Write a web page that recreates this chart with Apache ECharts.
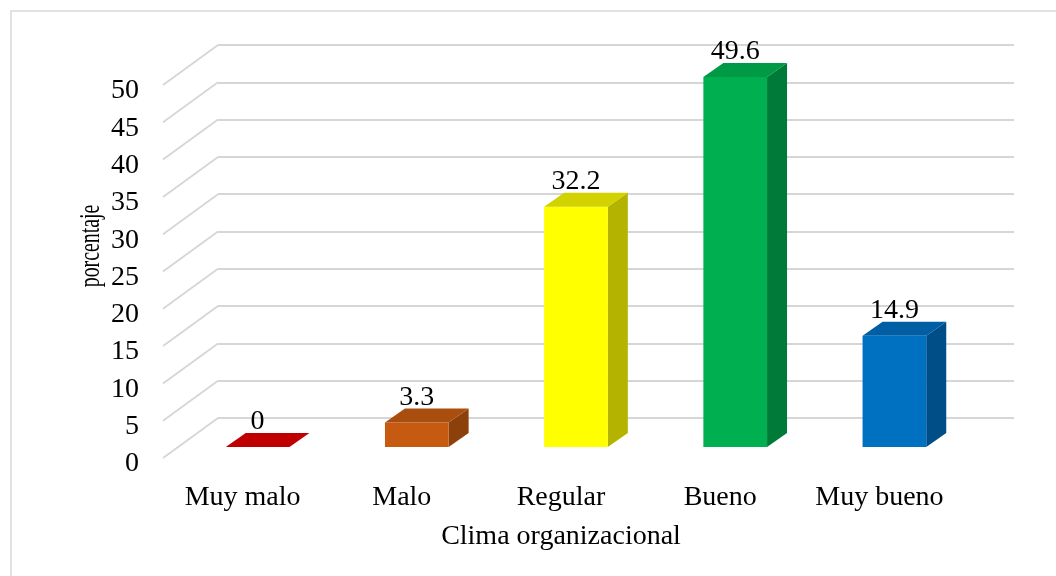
<!DOCTYPE html>
<html>
<head>
<meta charset="utf-8">
<title>Clima organizacional</title>
<script src="https://cdn.jsdelivr.net/npm/echarts@6/dist/echarts.min.js"></script>
<style>
  html, body { margin: 0; padding: 0; background: #ffffff; }
  #chart { width: 1056px; height: 576px; }
</style>
</head>
<body>
<div id="chart"></div>
<script>
// Categories and percentages
const categories = ['Muy malo', 'Malo', 'Regular', 'Bueno', 'Muy bueno'];
const values = [0, 3.3, 32.2, 49.6, 14.9];
// Value-axis ticks (0 .. 50 step 5)
const yTicks = [0, 5, 10, 15, 20, 25, 30, 35, 40, 45, 50];

// Face colours of each column: front, top, right side
const frontColors = ['#C00000', '#C65A11', '#FFFF00', '#00B050', '#0070C0'];
const topColors   = ['#C00000', '#AA4E0F', '#D2D200', '#009A46', '#005FA4'];
const sideColors  = ['#9A0000', '#8C400C', '#B4B400', '#007A38', '#004E87'];

const SERIF = '"Liberation Serif", "Times New Roman", serif';
const FONT_SIZE = 28;

// Oblique projection: back wall -> front of columns, column depth, floor depth
const COL_FRONT = [-40, 29];
const COL_DEPTH = [20, -14];
const FLOOR_DEPTH = [-55, 40];

const chart = echarts.init(document.getElementById('chart'), null, { renderer: 'canvas' });

function renderColumn(params, api) {
  const i = api.value(0);
  const v = api.value(1);
  const top = api.coord([i, v]);
  const base = api.coord([i, 0]);
  const w = api.size([1, 0])[0] * 0.4;
  const xl = top[0] + COL_FRONT[0] - w / 2;
  const xr = xl + w;
  const yt = top[1] + COL_FRONT[1];
  const yb = base[1] + COL_FRONT[1];
  const dx = COL_DEPTH[0], dy = COL_DEPTH[1];
  const children = [];
  if (yb - yt > 0.5) {
    children.push({
      type: 'polygon',
      shape: { points: [[xr, yt], [xr + dx, yt + dy], [xr + dx, yb + dy], [xr, yb]] },
      style: { fill: sideColors[i] }
    });
    children.push({
      type: 'rect',
      shape: { x: xl, y: yt, width: w, height: yb - yt },
      style: { fill: frontColors[i] }
    });
  }
  children.push({
    type: 'polygon',
    shape: { points: [[xl, yt], [xr, yt], [xr + dx, yt + dy], [xl + dx, yt + dy]] },
    style: { fill: topColors[i] }
  });
  children.push({
    type: 'text',
    style: {
      text: String(v),
      x: top[0] + COL_FRONT[0],
      y: yt + dy + 3,
      align: 'center',
      verticalAlign: 'bottom',
      font: FONT_SIZE + 'px ' + SERIF,
      fill: '#000000'
    }
  });
  return { type: 'group', children: children };
}

function renderWallLine(params, api) {
  const c = api.coord([0, api.value(1)]);
  const x0 = params.coordSys.x;
  return {
    type: 'line',
    shape: { x1: x0, y1: c[1], x2: x0 + FLOOR_DEPTH[0], y2: c[1] + FLOOR_DEPTH[1] },
    style: { stroke: '#D6D6D6', lineWidth: 1.8 }
  };
}

const option = {
  backgroundColor: '#ffffff',
  animation: false,
  graphic: [
    {
      type: 'polyline',
      shape: { points: [[11, 580], [11, 11], [1060, 11]] },
      style: { stroke: '#D9D9D9', lineWidth: 1.5, fill: null },
      silent: true
    },
    {
      type: 'text',
      x: 91,
      y: 246,
      rotation: Math.PI / 2,
      scaleX: 0.66,
      scaleY: 1,
      style: {
        text: 'porcentaje',
        font: '30px ' + SERIF,
        fill: '#000000',
        align: 'center',
        verticalAlign: 'middle'
      }
    }
  ],
  grid: [
    // back wall
    { left: 218, right: 42, top: 45, bottom: 158 },
    // front plane (axis labels)
    { left: 163, right: 97, top: 91, bottom: 112 }
  ],
  xAxis: [
    {
      type: 'category', gridIndex: 0, data: categories,
      axisLine: { show: false }, axisTick: { show: false }, axisLabel: { show: false },
      splitLine: { show: false }
    },
    {
      type: 'category', gridIndex: 1, data: categories,
      axisLine: { show: false }, axisTick: { show: false },
      axisLabel: { interval: 0, color: '#000000', fontFamily: SERIF, fontSize: FONT_SIZE, margin: 20 },
      name: 'Clima organizacional',
      nameLocation: 'middle',
      nameGap: 59,
      nameTextStyle: { color: '#000000', fontFamily: SERIF, fontSize: FONT_SIZE }
    }
  ],
  yAxis: [
    {
      type: 'value', gridIndex: 0, min: 0, max: 50, interval: 5,
      axisLine: { show: false }, axisTick: { show: false }, axisLabel: { show: false },
      splitLine: { show: true, lineStyle: { color: '#D6D6D6', width: 1.8 } }
    },
    {
      type: 'value', gridIndex: 1, min: 0, max: 50, interval: 5,
      axisLine: { show: false }, axisTick: { show: false },
      splitLine: { show: false },
      axisLabel: {
        color: '#000000', fontFamily: SERIF, fontSize: FONT_SIZE, margin: 24,
        formatter: function (v) { return yTicks.indexOf(v) >= 0 ? String(v) : ''; }
      }
    }
  ],
  series: [
    {
      type: 'custom',
      name: 'wall',
      xAxisIndex: 0, yAxisIndex: 0,
      silent: true,
      clip: false,
      z: 1,
      data: yTicks.map(function (t) { return [0, t]; }),
      renderItem: renderWallLine
    },
    {
      type: 'custom',
      name: 'porcentaje',
      xAxisIndex: 0, yAxisIndex: 0,
      clip: false,
      z: 3,
      data: values.map(function (v, i) { return [i, v]; }),
      renderItem: renderColumn
    }
  ]
};

chart.setOption(option);
</script>
</body>
</html>
